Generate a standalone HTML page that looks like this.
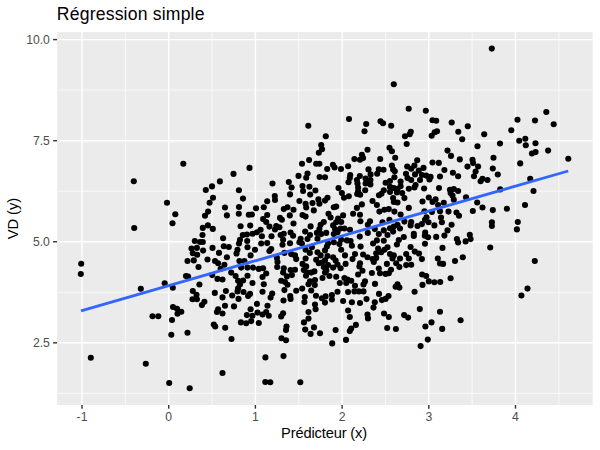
<!DOCTYPE html><html><head><meta charset="utf-8"><title>Régression simple</title>
<style>html,body{margin:0;padding:0;background:#fff}svg{display:block}text{font-family:"Liberation Sans",Arial,sans-serif}</style></head><body>
<svg width="600" height="450" viewBox="0 0 600 450">
<rect width="600" height="450" fill="#fff"/>
<rect x="57.1" y="32.1" width="535.60" height="372.90" fill="#EBEBEB"/>
<g stroke="#fff" stroke-width="0.71" opacity="1">
<line x1="125.35" x2="125.35" y1="32.1" y2="405.0"/>
<line x1="212.05" x2="212.05" y1="32.1" y2="405.0"/>
<line x1="298.75" x2="298.75" y1="32.1" y2="405.0"/>
<line x1="385.45" x2="385.45" y1="32.1" y2="405.0"/>
<line x1="472.15" x2="472.15" y1="32.1" y2="405.0"/>
<line x1="558.85" x2="558.85" y1="32.1" y2="405.0"/>
<line y1="393.36" y2="393.36" x1="57.1" x2="592.7"/>
<line y1="292.29" y2="292.29" x1="57.1" x2="592.7"/>
<line y1="191.21" y2="191.21" x1="57.1" x2="592.7"/>
<line y1="90.14" y2="90.14" x1="57.1" x2="592.7"/>
</g>
<g stroke="#fff" stroke-width="1.42">
<line x1="82.00" x2="82.00" y1="32.1" y2="405.0"/>
<line x1="168.70" x2="168.70" y1="32.1" y2="405.0"/>
<line x1="255.40" x2="255.40" y1="32.1" y2="405.0"/>
<line x1="342.10" x2="342.10" y1="32.1" y2="405.0"/>
<line x1="428.80" x2="428.80" y1="32.1" y2="405.0"/>
<line x1="515.50" x2="515.50" y1="32.1" y2="405.0"/>
<line y1="342.83" y2="342.83" x1="57.1" x2="592.7"/>
<line y1="241.75" y2="241.75" x1="57.1" x2="592.7"/>
<line y1="140.68" y2="140.68" x1="57.1" x2="592.7"/>
<line y1="39.60" y2="39.60" x1="57.1" x2="592.7"/>
</g>
<g fill="#000">
<circle cx="491.8" cy="48.6" r="3.05"/>
<circle cx="393.8" cy="84.2" r="3.05"/>
<circle cx="183.3" cy="163.7" r="3.05"/>
<circle cx="308.3" cy="125.7" r="3.05"/>
<circle cx="325.8" cy="136.3" r="3.05"/>
<circle cx="349.0" cy="119.0" r="3.05"/>
<circle cx="321.2" cy="145.0" r="3.05"/>
<circle cx="322.0" cy="149.3" r="3.05"/>
<circle cx="408.7" cy="108.7" r="3.05"/>
<circle cx="425.8" cy="110.7" r="3.05"/>
<circle cx="366.2" cy="124.0" r="3.05"/>
<circle cx="380.5" cy="121.3" r="3.05"/>
<circle cx="383.0" cy="123.3" r="3.05"/>
<circle cx="391.2" cy="125.8" r="3.05"/>
<circle cx="364.5" cy="131.3" r="3.05"/>
<circle cx="432.5" cy="120.3" r="3.05"/>
<circle cx="436.2" cy="120.7" r="3.05"/>
<circle cx="410.8" cy="131.7" r="3.05"/>
<circle cx="409.7" cy="134.2" r="3.05"/>
<circle cx="405.0" cy="136.3" r="3.05"/>
<circle cx="437.0" cy="131.2" r="3.05"/>
<circle cx="434.7" cy="132.2" r="3.05"/>
<circle cx="431.7" cy="135.8" r="3.05"/>
<circle cx="406.7" cy="144.0" r="3.05"/>
<circle cx="389.5" cy="147.8" r="3.05"/>
<circle cx="367.5" cy="149.7" r="3.05"/>
<circle cx="546.3" cy="112.0" r="3.05"/>
<circle cx="517.5" cy="119.7" r="3.05"/>
<circle cx="535.0" cy="120.5" r="3.05"/>
<circle cx="451.7" cy="122.5" r="3.05"/>
<circle cx="467.8" cy="126.2" r="3.05"/>
<circle cx="458.3" cy="131.7" r="3.05"/>
<circle cx="511.3" cy="130.2" r="3.05"/>
<circle cx="484.2" cy="134.2" r="3.05"/>
<circle cx="462.2" cy="139.2" r="3.05"/>
<circle cx="525.3" cy="138.8" r="3.05"/>
<circle cx="519.2" cy="140.8" r="3.05"/>
<circle cx="535.5" cy="143.3" r="3.05"/>
<circle cx="525.8" cy="145.3" r="3.05"/>
<circle cx="500.0" cy="143.5" r="3.05"/>
<circle cx="477.5" cy="146.3" r="3.05"/>
<circle cx="553.7" cy="124.2" r="3.05"/>
<circle cx="568.3" cy="158.7" r="3.05"/>
<circle cx="133.8" cy="181.3" r="3.05"/>
<circle cx="167.0" cy="202.8" r="3.05"/>
<circle cx="175.3" cy="214.3" r="3.05"/>
<circle cx="172.5" cy="223.3" r="3.05"/>
<circle cx="134.2" cy="228.0" r="3.05"/>
<circle cx="81.2" cy="263.7" r="3.05"/>
<circle cx="80.8" cy="274.0" r="3.05"/>
<circle cx="140.8" cy="288.7" r="3.05"/>
<circle cx="152.5" cy="316.2" r="3.05"/>
<circle cx="158.3" cy="316.2" r="3.05"/>
<circle cx="90.8" cy="357.7" r="3.05"/>
<circle cx="145.8" cy="363.8" r="3.05"/>
<circle cx="164.7" cy="283.3" r="3.05"/>
<circle cx="172.8" cy="287.7" r="3.05"/>
<circle cx="249.5" cy="167.9" r="3.05"/>
<circle cx="233.5" cy="173.9" r="3.05"/>
<circle cx="219.9" cy="181.4" r="3.05"/>
<circle cx="212.0" cy="186.4" r="3.05"/>
<circle cx="205.8" cy="190.0" r="3.05"/>
<circle cx="238.9" cy="190.2" r="3.05"/>
<circle cx="213.0" cy="197.8" r="3.05"/>
<circle cx="243.0" cy="198.6" r="3.05"/>
<circle cx="209.6" cy="202.8" r="3.05"/>
<circle cx="318.8" cy="152.8" r="3.05"/>
<circle cx="309.1" cy="160.1" r="3.05"/>
<circle cx="302.0" cy="163.8" r="3.05"/>
<circle cx="316.2" cy="163.8" r="3.05"/>
<circle cx="319.4" cy="163.8" r="3.05"/>
<circle cx="332.9" cy="164.8" r="3.05"/>
<circle cx="334.6" cy="167.5" r="3.05"/>
<circle cx="327.2" cy="169.0" r="3.05"/>
<circle cx="307.5" cy="173.5" r="3.05"/>
<circle cx="306.2" cy="177.8" r="3.05"/>
<circle cx="298.5" cy="175.9" r="3.05"/>
<circle cx="319.6" cy="177.0" r="3.05"/>
<circle cx="325.0" cy="177.2" r="3.05"/>
<circle cx="272.5" cy="183.5" r="3.05"/>
<circle cx="288.8" cy="182.1" r="3.05"/>
<circle cx="291.6" cy="187.5" r="3.05"/>
<circle cx="302.5" cy="186.0" r="3.05"/>
<circle cx="309.4" cy="186.8" r="3.05"/>
<circle cx="303.1" cy="191.0" r="3.05"/>
<circle cx="315.4" cy="190.5" r="3.05"/>
<circle cx="310.2" cy="194.6" r="3.05"/>
<circle cx="290.0" cy="194.4" r="3.05"/>
<circle cx="274.8" cy="196.0" r="3.05"/>
<circle cx="275.0" cy="200.0" r="3.05"/>
<circle cx="267.2" cy="201.2" r="3.05"/>
<circle cx="299.4" cy="201.0" r="3.05"/>
<circle cx="318.4" cy="199.4" r="3.05"/>
<circle cx="327.5" cy="197.8" r="3.05"/>
<circle cx="325.0" cy="200.6" r="3.05"/>
<circle cx="305.6" cy="203.8" r="3.05"/>
<circle cx="312.5" cy="203.1" r="3.05"/>
<circle cx="319.4" cy="203.8" r="3.05"/>
<circle cx="361.9" cy="154.8" r="3.05"/>
<circle cx="363.1" cy="158.1" r="3.05"/>
<circle cx="360.0" cy="159.8" r="3.05"/>
<circle cx="354.4" cy="159.1" r="3.05"/>
<circle cx="380.2" cy="159.0" r="3.05"/>
<circle cx="391.9" cy="151.2" r="3.05"/>
<circle cx="395.2" cy="157.8" r="3.05"/>
<circle cx="341.0" cy="169.0" r="3.05"/>
<circle cx="348.1" cy="166.2" r="3.05"/>
<circle cx="368.5" cy="169.4" r="3.05"/>
<circle cx="378.8" cy="169.4" r="3.05"/>
<circle cx="383.5" cy="169.8" r="3.05"/>
<circle cx="391.9" cy="165.6" r="3.05"/>
<circle cx="393.1" cy="169.4" r="3.05"/>
<circle cx="394.8" cy="171.2" r="3.05"/>
<circle cx="407.2" cy="166.5" r="3.05"/>
<circle cx="377.2" cy="173.8" r="3.05"/>
<circle cx="370.6" cy="174.4" r="3.05"/>
<circle cx="350.2" cy="175.0" r="3.05"/>
<circle cx="349.8" cy="178.1" r="3.05"/>
<circle cx="348.5" cy="182.2" r="3.05"/>
<circle cx="359.8" cy="176.0" r="3.05"/>
<circle cx="356.9" cy="180.0" r="3.05"/>
<circle cx="365.6" cy="178.5" r="3.05"/>
<circle cx="370.4" cy="180.0" r="3.05"/>
<circle cx="357.5" cy="183.5" r="3.05"/>
<circle cx="365.6" cy="183.5" r="3.05"/>
<circle cx="370.4" cy="184.4" r="3.05"/>
<circle cx="358.1" cy="187.5" r="3.05"/>
<circle cx="365.2" cy="190.2" r="3.05"/>
<circle cx="358.1" cy="191.2" r="3.05"/>
<circle cx="357.2" cy="194.0" r="3.05"/>
<circle cx="360.2" cy="194.8" r="3.05"/>
<circle cx="394.4" cy="177.2" r="3.05"/>
<circle cx="406.0" cy="173.8" r="3.05"/>
<circle cx="407.5" cy="178.1" r="3.05"/>
<circle cx="400.6" cy="181.5" r="3.05"/>
<circle cx="390.0" cy="181.0" r="3.05"/>
<circle cx="385.6" cy="182.8" r="3.05"/>
<circle cx="390.0" cy="186.9" r="3.05"/>
<circle cx="393.8" cy="188.1" r="3.05"/>
<circle cx="397.5" cy="188.8" r="3.05"/>
<circle cx="400.6" cy="186.2" r="3.05"/>
<circle cx="390.0" cy="191.9" r="3.05"/>
<circle cx="396.9" cy="192.5" r="3.05"/>
<circle cx="402.2" cy="193.1" r="3.05"/>
<circle cx="408.8" cy="188.8" r="3.05"/>
<circle cx="383.8" cy="190.2" r="3.05"/>
<circle cx="381.5" cy="193.8" r="3.05"/>
<circle cx="379.0" cy="195.2" r="3.05"/>
<circle cx="338.5" cy="188.1" r="3.05"/>
<circle cx="341.9" cy="193.1" r="3.05"/>
<circle cx="344.0" cy="197.8" r="3.05"/>
<circle cx="348.8" cy="196.2" r="3.05"/>
<circle cx="372.5" cy="201.0" r="3.05"/>
<circle cx="361.9" cy="204.4" r="3.05"/>
<circle cx="393.1" cy="198.1" r="3.05"/>
<circle cx="404.4" cy="198.1" r="3.05"/>
<circle cx="397.5" cy="202.5" r="3.05"/>
<circle cx="376.9" cy="205.0" r="3.05"/>
<circle cx="393.8" cy="201.9" r="3.05"/>
<circle cx="447.5" cy="150.6" r="3.05"/>
<circle cx="451.0" cy="155.9" r="3.05"/>
<circle cx="459.8" cy="159.4" r="3.05"/>
<circle cx="417.2" cy="160.2" r="3.05"/>
<circle cx="432.5" cy="162.5" r="3.05"/>
<circle cx="438.8" cy="162.9" r="3.05"/>
<circle cx="472.5" cy="159.8" r="3.05"/>
<circle cx="473.1" cy="163.1" r="3.05"/>
<circle cx="478.1" cy="166.5" r="3.05"/>
<circle cx="467.5" cy="166.6" r="3.05"/>
<circle cx="414.4" cy="165.6" r="3.05"/>
<circle cx="423.5" cy="167.9" r="3.05"/>
<circle cx="411.2" cy="168.8" r="3.05"/>
<circle cx="444.4" cy="170.0" r="3.05"/>
<circle cx="475.6" cy="171.5" r="3.05"/>
<circle cx="452.9" cy="172.8" r="3.05"/>
<circle cx="418.8" cy="170.6" r="3.05"/>
<circle cx="415.0" cy="174.4" r="3.05"/>
<circle cx="421.9" cy="175.0" r="3.05"/>
<circle cx="426.2" cy="175.6" r="3.05"/>
<circle cx="430.6" cy="176.9" r="3.05"/>
<circle cx="429.4" cy="179.4" r="3.05"/>
<circle cx="440.0" cy="176.5" r="3.05"/>
<circle cx="458.1" cy="176.2" r="3.05"/>
<circle cx="474.0" cy="176.2" r="3.05"/>
<circle cx="482.5" cy="178.8" r="3.05"/>
<circle cx="480.6" cy="181.2" r="3.05"/>
<circle cx="411.2" cy="180.0" r="3.05"/>
<circle cx="420.0" cy="180.0" r="3.05"/>
<circle cx="415.6" cy="185.0" r="3.05"/>
<circle cx="414.4" cy="187.5" r="3.05"/>
<circle cx="424.1" cy="188.5" r="3.05"/>
<circle cx="439.0" cy="188.1" r="3.05"/>
<circle cx="450.0" cy="189.8" r="3.05"/>
<circle cx="453.8" cy="189.0" r="3.05"/>
<circle cx="458.1" cy="191.0" r="3.05"/>
<circle cx="450.6" cy="193.1" r="3.05"/>
<circle cx="452.5" cy="195.6" r="3.05"/>
<circle cx="466.0" cy="197.2" r="3.05"/>
<circle cx="428.8" cy="197.5" r="3.05"/>
<circle cx="435.6" cy="199.4" r="3.05"/>
<circle cx="432.5" cy="201.9" r="3.05"/>
<circle cx="422.5" cy="201.5" r="3.05"/>
<circle cx="443.8" cy="202.8" r="3.05"/>
<circle cx="453.8" cy="199.8" r="3.05"/>
<circle cx="477.2" cy="202.5" r="3.05"/>
<circle cx="438.1" cy="205.0" r="3.05"/>
<circle cx="493.5" cy="157.8" r="3.05"/>
<circle cx="492.8" cy="168.5" r="3.05"/>
<circle cx="497.8" cy="174.5" r="3.05"/>
<circle cx="487.5" cy="180.0" r="3.05"/>
<circle cx="500.2" cy="189.4" r="3.05"/>
<circle cx="520.2" cy="163.4" r="3.05"/>
<circle cx="531.9" cy="153.5" r="3.05"/>
<circle cx="535.6" cy="152.1" r="3.05"/>
<circle cx="548.1" cy="150.6" r="3.05"/>
<circle cx="530.2" cy="178.8" r="3.05"/>
<circle cx="533.5" cy="191.0" r="3.05"/>
<circle cx="525.0" cy="205.0" r="3.05"/>
<circle cx="225.0" cy="207.5" r="3.05"/>
<circle cx="239.0" cy="207.0" r="3.05"/>
<circle cx="256.0" cy="208.2" r="3.05"/>
<circle cx="208.1" cy="211.6" r="3.05"/>
<circle cx="205.0" cy="215.8" r="3.05"/>
<circle cx="226.9" cy="215.4" r="3.05"/>
<circle cx="238.8" cy="213.8" r="3.05"/>
<circle cx="248.8" cy="214.8" r="3.05"/>
<circle cx="251.9" cy="214.5" r="3.05"/>
<circle cx="207.9" cy="225.4" r="3.05"/>
<circle cx="202.8" cy="227.9" r="3.05"/>
<circle cx="212.8" cy="228.9" r="3.05"/>
<circle cx="240.6" cy="226.2" r="3.05"/>
<circle cx="250.2" cy="225.6" r="3.05"/>
<circle cx="202.5" cy="235.0" r="3.05"/>
<circle cx="223.1" cy="238.2" r="3.05"/>
<circle cx="242.8" cy="235.0" r="3.05"/>
<circle cx="246.9" cy="234.5" r="3.05"/>
<circle cx="252.5" cy="233.8" r="3.05"/>
<circle cx="256.9" cy="232.2" r="3.05"/>
<circle cx="240.0" cy="239.8" r="3.05"/>
<circle cx="239.0" cy="243.5" r="3.05"/>
<circle cx="247.2" cy="241.0" r="3.05"/>
<circle cx="194.8" cy="241.0" r="3.05"/>
<circle cx="200.0" cy="242.0" r="3.05"/>
<circle cx="202.8" cy="242.0" r="3.05"/>
<circle cx="191.5" cy="248.5" r="3.05"/>
<circle cx="196.9" cy="247.9" r="3.05"/>
<circle cx="203.1" cy="250.6" r="3.05"/>
<circle cx="192.8" cy="253.2" r="3.05"/>
<circle cx="197.2" cy="254.8" r="3.05"/>
<circle cx="212.5" cy="247.9" r="3.05"/>
<circle cx="223.8" cy="246.2" r="3.05"/>
<circle cx="228.8" cy="247.0" r="3.05"/>
<circle cx="219.0" cy="252.9" r="3.05"/>
<circle cx="226.9" cy="257.2" r="3.05"/>
<circle cx="237.5" cy="249.8" r="3.05"/>
<circle cx="236.5" cy="253.5" r="3.05"/>
<circle cx="247.5" cy="247.2" r="3.05"/>
<circle cx="255.0" cy="249.8" r="3.05"/>
<circle cx="250.6" cy="255.4" r="3.05"/>
<circle cx="207.5" cy="259.5" r="3.05"/>
<circle cx="193.8" cy="260.4" r="3.05"/>
<circle cx="187.5" cy="261.0" r="3.05"/>
<circle cx="215.0" cy="261.0" r="3.05"/>
<circle cx="239.4" cy="261.0" r="3.05"/>
<circle cx="244.4" cy="261.0" r="3.05"/>
<circle cx="263.8" cy="207.2" r="3.05"/>
<circle cx="283.8" cy="209.1" r="3.05"/>
<circle cx="287.5" cy="207.2" r="3.05"/>
<circle cx="293.5" cy="209.8" r="3.05"/>
<circle cx="306.2" cy="207.5" r="3.05"/>
<circle cx="313.8" cy="210.4" r="3.05"/>
<circle cx="333.8" cy="207.2" r="3.05"/>
<circle cx="267.2" cy="215.0" r="3.05"/>
<circle cx="263.1" cy="219.1" r="3.05"/>
<circle cx="266.2" cy="222.0" r="3.05"/>
<circle cx="280.0" cy="217.9" r="3.05"/>
<circle cx="281.9" cy="219.8" r="3.05"/>
<circle cx="289.8" cy="215.4" r="3.05"/>
<circle cx="302.5" cy="215.0" r="3.05"/>
<circle cx="305.6" cy="216.6" r="3.05"/>
<circle cx="328.5" cy="213.8" r="3.05"/>
<circle cx="330.6" cy="217.5" r="3.05"/>
<circle cx="323.8" cy="222.0" r="3.05"/>
<circle cx="269.4" cy="226.6" r="3.05"/>
<circle cx="276.2" cy="226.0" r="3.05"/>
<circle cx="279.4" cy="227.2" r="3.05"/>
<circle cx="275.0" cy="229.5" r="3.05"/>
<circle cx="293.5" cy="223.5" r="3.05"/>
<circle cx="310.6" cy="226.4" r="3.05"/>
<circle cx="320.6" cy="224.8" r="3.05"/>
<circle cx="319.4" cy="229.1" r="3.05"/>
<circle cx="333.1" cy="225.4" r="3.05"/>
<circle cx="335.0" cy="229.1" r="3.05"/>
<circle cx="260.6" cy="229.8" r="3.05"/>
<circle cx="261.9" cy="236.2" r="3.05"/>
<circle cx="271.5" cy="236.2" r="3.05"/>
<circle cx="280.6" cy="235.0" r="3.05"/>
<circle cx="283.8" cy="233.8" r="3.05"/>
<circle cx="290.6" cy="232.5" r="3.05"/>
<circle cx="293.1" cy="235.8" r="3.05"/>
<circle cx="305.2" cy="231.6" r="3.05"/>
<circle cx="310.0" cy="235.0" r="3.05"/>
<circle cx="316.9" cy="232.9" r="3.05"/>
<circle cx="321.2" cy="234.1" r="3.05"/>
<circle cx="326.2" cy="232.9" r="3.05"/>
<circle cx="333.8" cy="234.1" r="3.05"/>
<circle cx="300.6" cy="238.8" r="3.05"/>
<circle cx="307.5" cy="239.1" r="3.05"/>
<circle cx="317.5" cy="238.8" r="3.05"/>
<circle cx="261.2" cy="243.5" r="3.05"/>
<circle cx="267.2" cy="243.1" r="3.05"/>
<circle cx="283.1" cy="239.8" r="3.05"/>
<circle cx="282.5" cy="244.8" r="3.05"/>
<circle cx="290.0" cy="243.2" r="3.05"/>
<circle cx="299.4" cy="242.2" r="3.05"/>
<circle cx="301.9" cy="243.5" r="3.05"/>
<circle cx="328.1" cy="243.5" r="3.05"/>
<circle cx="333.8" cy="242.2" r="3.05"/>
<circle cx="326.9" cy="246.6" r="3.05"/>
<circle cx="271.2" cy="249.1" r="3.05"/>
<circle cx="269.4" cy="251.0" r="3.05"/>
<circle cx="311.9" cy="247.2" r="3.05"/>
<circle cx="305.6" cy="249.8" r="3.05"/>
<circle cx="325.0" cy="250.4" r="3.05"/>
<circle cx="309.8" cy="252.9" r="3.05"/>
<circle cx="317.5" cy="252.2" r="3.05"/>
<circle cx="284.4" cy="252.9" r="3.05"/>
<circle cx="291.2" cy="254.1" r="3.05"/>
<circle cx="295.0" cy="255.4" r="3.05"/>
<circle cx="296.2" cy="259.1" r="3.05"/>
<circle cx="305.6" cy="258.5" r="3.05"/>
<circle cx="276.9" cy="257.9" r="3.05"/>
<circle cx="320.6" cy="255.4" r="3.05"/>
<circle cx="327.5" cy="256.0" r="3.05"/>
<circle cx="333.1" cy="257.2" r="3.05"/>
<circle cx="325.0" cy="260.4" r="3.05"/>
<circle cx="316.2" cy="259.8" r="3.05"/>
<circle cx="336.2" cy="206.6" r="3.05"/>
<circle cx="356.9" cy="207.9" r="3.05"/>
<circle cx="379.4" cy="211.6" r="3.05"/>
<circle cx="384.4" cy="209.8" r="3.05"/>
<circle cx="388.8" cy="209.1" r="3.05"/>
<circle cx="394.4" cy="211.6" r="3.05"/>
<circle cx="408.8" cy="207.9" r="3.05"/>
<circle cx="353.1" cy="213.8" r="3.05"/>
<circle cx="360.0" cy="214.8" r="3.05"/>
<circle cx="343.1" cy="215.4" r="3.05"/>
<circle cx="400.6" cy="214.5" r="3.05"/>
<circle cx="338.1" cy="218.5" r="3.05"/>
<circle cx="341.2" cy="222.0" r="3.05"/>
<circle cx="336.2" cy="222.2" r="3.05"/>
<circle cx="360.4" cy="221.2" r="3.05"/>
<circle cx="370.0" cy="221.2" r="3.05"/>
<circle cx="367.8" cy="224.8" r="3.05"/>
<circle cx="382.5" cy="222.2" r="3.05"/>
<circle cx="389.4" cy="219.8" r="3.05"/>
<circle cx="404.4" cy="221.6" r="3.05"/>
<circle cx="397.5" cy="224.8" r="3.05"/>
<circle cx="393.8" cy="226.6" r="3.05"/>
<circle cx="400.0" cy="228.5" r="3.05"/>
<circle cx="390.0" cy="228.2" r="3.05"/>
<circle cx="340.6" cy="228.5" r="3.05"/>
<circle cx="344.4" cy="228.5" r="3.05"/>
<circle cx="350.0" cy="229.8" r="3.05"/>
<circle cx="337.5" cy="232.2" r="3.05"/>
<circle cx="374.8" cy="229.1" r="3.05"/>
<circle cx="383.8" cy="230.4" r="3.05"/>
<circle cx="367.8" cy="232.9" r="3.05"/>
<circle cx="378.8" cy="234.1" r="3.05"/>
<circle cx="387.5" cy="235.0" r="3.05"/>
<circle cx="393.1" cy="231.6" r="3.05"/>
<circle cx="359.8" cy="236.6" r="3.05"/>
<circle cx="403.8" cy="237.0" r="3.05"/>
<circle cx="341.2" cy="239.8" r="3.05"/>
<circle cx="346.9" cy="240.4" r="3.05"/>
<circle cx="350.6" cy="241.0" r="3.05"/>
<circle cx="339.4" cy="244.1" r="3.05"/>
<circle cx="351.9" cy="245.8" r="3.05"/>
<circle cx="376.9" cy="240.4" r="3.05"/>
<circle cx="373.1" cy="243.5" r="3.05"/>
<circle cx="383.8" cy="240.8" r="3.05"/>
<circle cx="398.8" cy="240.0" r="3.05"/>
<circle cx="396.9" cy="244.5" r="3.05"/>
<circle cx="360.6" cy="246.6" r="3.05"/>
<circle cx="341.2" cy="249.8" r="3.05"/>
<circle cx="378.1" cy="248.5" r="3.05"/>
<circle cx="387.5" cy="247.2" r="3.05"/>
<circle cx="384.4" cy="249.8" r="3.05"/>
<circle cx="381.2" cy="252.2" r="3.05"/>
<circle cx="376.2" cy="253.2" r="3.05"/>
<circle cx="345.0" cy="255.4" r="3.05"/>
<circle cx="355.0" cy="254.1" r="3.05"/>
<circle cx="352.5" cy="259.1" r="3.05"/>
<circle cx="363.1" cy="254.5" r="3.05"/>
<circle cx="367.5" cy="257.2" r="3.05"/>
<circle cx="372.5" cy="259.1" r="3.05"/>
<circle cx="376.2" cy="257.9" r="3.05"/>
<circle cx="390.0" cy="254.1" r="3.05"/>
<circle cx="393.8" cy="255.4" r="3.05"/>
<circle cx="392.5" cy="258.5" r="3.05"/>
<circle cx="400.0" cy="258.5" r="3.05"/>
<circle cx="406.2" cy="254.1" r="3.05"/>
<circle cx="408.8" cy="258.5" r="3.05"/>
<circle cx="424.4" cy="211.2" r="3.05"/>
<circle cx="431.9" cy="212.0" r="3.05"/>
<circle cx="440.0" cy="211.2" r="3.05"/>
<circle cx="448.5" cy="211.6" r="3.05"/>
<circle cx="456.5" cy="212.5" r="3.05"/>
<circle cx="459.0" cy="215.8" r="3.05"/>
<circle cx="472.8" cy="211.0" r="3.05"/>
<circle cx="482.5" cy="207.5" r="3.05"/>
<circle cx="426.5" cy="217.2" r="3.05"/>
<circle cx="425.0" cy="219.8" r="3.05"/>
<circle cx="428.5" cy="222.2" r="3.05"/>
<circle cx="441.0" cy="217.5" r="3.05"/>
<circle cx="441.9" cy="222.2" r="3.05"/>
<circle cx="411.2" cy="222.0" r="3.05"/>
<circle cx="410.6" cy="225.4" r="3.05"/>
<circle cx="417.5" cy="226.0" r="3.05"/>
<circle cx="421.9" cy="224.1" r="3.05"/>
<circle cx="434.4" cy="225.4" r="3.05"/>
<circle cx="451.6" cy="224.8" r="3.05"/>
<circle cx="447.5" cy="230.4" r="3.05"/>
<circle cx="444.4" cy="235.6" r="3.05"/>
<circle cx="436.2" cy="236.9" r="3.05"/>
<circle cx="425.2" cy="232.5" r="3.05"/>
<circle cx="424.8" cy="235.8" r="3.05"/>
<circle cx="428.1" cy="237.2" r="3.05"/>
<circle cx="413.8" cy="233.8" r="3.05"/>
<circle cx="413.8" cy="236.0" r="3.05"/>
<circle cx="469.8" cy="234.8" r="3.05"/>
<circle cx="470.6" cy="239.1" r="3.05"/>
<circle cx="465.6" cy="241.4" r="3.05"/>
<circle cx="456.9" cy="239.1" r="3.05"/>
<circle cx="458.1" cy="242.5" r="3.05"/>
<circle cx="425.0" cy="243.8" r="3.05"/>
<circle cx="410.6" cy="247.0" r="3.05"/>
<circle cx="442.5" cy="247.9" r="3.05"/>
<circle cx="414.8" cy="251.6" r="3.05"/>
<circle cx="419.0" cy="253.5" r="3.05"/>
<circle cx="421.9" cy="259.1" r="3.05"/>
<circle cx="437.8" cy="258.5" r="3.05"/>
<circle cx="455.0" cy="261.0" r="3.05"/>
<circle cx="462.8" cy="257.2" r="3.05"/>
<circle cx="492.8" cy="210.1" r="3.05"/>
<circle cx="506.9" cy="208.8" r="3.05"/>
<circle cx="491.9" cy="222.2" r="3.05"/>
<circle cx="491.9" cy="226.0" r="3.05"/>
<circle cx="517.8" cy="222.0" r="3.05"/>
<circle cx="516.9" cy="229.4" r="3.05"/>
<circle cx="490.2" cy="247.5" r="3.05"/>
<circle cx="534.8" cy="261.0" r="3.05"/>
<circle cx="198.5" cy="267.0" r="3.05"/>
<circle cx="218.1" cy="263.2" r="3.05"/>
<circle cx="224.4" cy="264.8" r="3.05"/>
<circle cx="220.6" cy="268.9" r="3.05"/>
<circle cx="241.2" cy="267.6" r="3.05"/>
<circle cx="247.5" cy="267.6" r="3.05"/>
<circle cx="253.1" cy="267.6" r="3.05"/>
<circle cx="258.8" cy="268.9" r="3.05"/>
<circle cx="186.0" cy="276.1" r="3.05"/>
<circle cx="188.1" cy="276.6" r="3.05"/>
<circle cx="212.2" cy="275.1" r="3.05"/>
<circle cx="217.5" cy="278.9" r="3.05"/>
<circle cx="222.5" cy="279.5" r="3.05"/>
<circle cx="231.2" cy="272.6" r="3.05"/>
<circle cx="235.6" cy="276.0" r="3.05"/>
<circle cx="247.5" cy="275.8" r="3.05"/>
<circle cx="238.1" cy="280.8" r="3.05"/>
<circle cx="243.1" cy="280.5" r="3.05"/>
<circle cx="252.5" cy="283.0" r="3.05"/>
<circle cx="240.0" cy="284.5" r="3.05"/>
<circle cx="199.4" cy="284.5" r="3.05"/>
<circle cx="192.8" cy="291.0" r="3.05"/>
<circle cx="196.5" cy="294.8" r="3.05"/>
<circle cx="192.5" cy="299.2" r="3.05"/>
<circle cx="196.9" cy="299.2" r="3.05"/>
<circle cx="204.4" cy="301.8" r="3.05"/>
<circle cx="201.9" cy="305.1" r="3.05"/>
<circle cx="214.8" cy="292.9" r="3.05"/>
<circle cx="225.9" cy="291.0" r="3.05"/>
<circle cx="222.5" cy="297.4" r="3.05"/>
<circle cx="232.2" cy="295.5" r="3.05"/>
<circle cx="238.1" cy="288.2" r="3.05"/>
<circle cx="237.5" cy="291.4" r="3.05"/>
<circle cx="243.5" cy="292.0" r="3.05"/>
<circle cx="250.0" cy="293.9" r="3.05"/>
<circle cx="248.1" cy="296.0" r="3.05"/>
<circle cx="238.5" cy="298.9" r="3.05"/>
<circle cx="225.0" cy="305.8" r="3.05"/>
<circle cx="234.0" cy="306.4" r="3.05"/>
<circle cx="256.9" cy="303.9" r="3.05"/>
<circle cx="218.1" cy="309.2" r="3.05"/>
<circle cx="216.9" cy="312.0" r="3.05"/>
<circle cx="222.5" cy="313.5" r="3.05"/>
<circle cx="250.6" cy="309.2" r="3.05"/>
<circle cx="257.5" cy="312.6" r="3.05"/>
<circle cx="246.9" cy="315.1" r="3.05"/>
<circle cx="252.5" cy="315.8" r="3.05"/>
<circle cx="263.1" cy="268.2" r="3.05"/>
<circle cx="266.2" cy="273.5" r="3.05"/>
<circle cx="262.5" cy="277.0" r="3.05"/>
<circle cx="263.8" cy="284.2" r="3.05"/>
<circle cx="262.5" cy="291.8" r="3.05"/>
<circle cx="277.2" cy="267.0" r="3.05"/>
<circle cx="277.5" cy="262.0" r="3.05"/>
<circle cx="283.8" cy="268.2" r="3.05"/>
<circle cx="283.1" cy="272.6" r="3.05"/>
<circle cx="290.6" cy="270.1" r="3.05"/>
<circle cx="295.0" cy="269.8" r="3.05"/>
<circle cx="286.9" cy="276.4" r="3.05"/>
<circle cx="291.9" cy="275.1" r="3.05"/>
<circle cx="281.2" cy="280.8" r="3.05"/>
<circle cx="285.0" cy="282.0" r="3.05"/>
<circle cx="287.5" cy="284.8" r="3.05"/>
<circle cx="284.4" cy="290.1" r="3.05"/>
<circle cx="302.5" cy="263.9" r="3.05"/>
<circle cx="306.2" cy="266.4" r="3.05"/>
<circle cx="303.8" cy="270.1" r="3.05"/>
<circle cx="307.5" cy="272.6" r="3.05"/>
<circle cx="306.0" cy="275.8" r="3.05"/>
<circle cx="311.2" cy="272.6" r="3.05"/>
<circle cx="314.4" cy="271.4" r="3.05"/>
<circle cx="318.8" cy="263.2" r="3.05"/>
<circle cx="323.8" cy="267.0" r="3.05"/>
<circle cx="328.1" cy="265.1" r="3.05"/>
<circle cx="333.1" cy="267.6" r="3.05"/>
<circle cx="325.0" cy="272.6" r="3.05"/>
<circle cx="322.5" cy="278.0" r="3.05"/>
<circle cx="329.4" cy="276.0" r="3.05"/>
<circle cx="310.0" cy="281.4" r="3.05"/>
<circle cx="315.0" cy="280.1" r="3.05"/>
<circle cx="308.5" cy="284.2" r="3.05"/>
<circle cx="314.8" cy="285.1" r="3.05"/>
<circle cx="302.2" cy="288.6" r="3.05"/>
<circle cx="296.2" cy="290.8" r="3.05"/>
<circle cx="311.2" cy="290.5" r="3.05"/>
<circle cx="272.2" cy="293.5" r="3.05"/>
<circle cx="270.6" cy="297.6" r="3.05"/>
<circle cx="267.5" cy="305.8" r="3.05"/>
<circle cx="266.2" cy="312.0" r="3.05"/>
<circle cx="268.8" cy="315.8" r="3.05"/>
<circle cx="262.5" cy="314.5" r="3.05"/>
<circle cx="283.5" cy="300.5" r="3.05"/>
<circle cx="290.2" cy="296.0" r="3.05"/>
<circle cx="290.6" cy="298.9" r="3.05"/>
<circle cx="283.1" cy="313.2" r="3.05"/>
<circle cx="281.2" cy="316.4" r="3.05"/>
<circle cx="304.8" cy="297.0" r="3.05"/>
<circle cx="304.4" cy="302.0" r="3.05"/>
<circle cx="316.0" cy="295.8" r="3.05"/>
<circle cx="321.9" cy="298.2" r="3.05"/>
<circle cx="325.6" cy="296.4" r="3.05"/>
<circle cx="331.9" cy="295.1" r="3.05"/>
<circle cx="331.9" cy="299.5" r="3.05"/>
<circle cx="325.0" cy="302.6" r="3.05"/>
<circle cx="315.0" cy="304.5" r="3.05"/>
<circle cx="315.6" cy="309.2" r="3.05"/>
<circle cx="308.5" cy="312.0" r="3.05"/>
<circle cx="337.5" cy="264.5" r="3.05"/>
<circle cx="340.6" cy="268.2" r="3.05"/>
<circle cx="345.6" cy="263.9" r="3.05"/>
<circle cx="360.0" cy="263.2" r="3.05"/>
<circle cx="359.4" cy="266.4" r="3.05"/>
<circle cx="362.5" cy="270.8" r="3.05"/>
<circle cx="358.1" cy="274.5" r="3.05"/>
<circle cx="371.9" cy="273.0" r="3.05"/>
<circle cx="373.8" cy="262.0" r="3.05"/>
<circle cx="378.8" cy="268.5" r="3.05"/>
<circle cx="380.0" cy="273.2" r="3.05"/>
<circle cx="385.6" cy="273.9" r="3.05"/>
<circle cx="388.8" cy="273.2" r="3.05"/>
<circle cx="391.0" cy="269.8" r="3.05"/>
<circle cx="386.9" cy="263.9" r="3.05"/>
<circle cx="396.2" cy="263.2" r="3.05"/>
<circle cx="399.4" cy="267.0" r="3.05"/>
<circle cx="406.2" cy="265.1" r="3.05"/>
<circle cx="336.2" cy="276.8" r="3.05"/>
<circle cx="344.4" cy="278.0" r="3.05"/>
<circle cx="347.5" cy="279.5" r="3.05"/>
<circle cx="351.2" cy="280.8" r="3.05"/>
<circle cx="339.8" cy="283.0" r="3.05"/>
<circle cx="346.2" cy="283.0" r="3.05"/>
<circle cx="355.0" cy="285.8" r="3.05"/>
<circle cx="365.0" cy="281.4" r="3.05"/>
<circle cx="363.5" cy="284.5" r="3.05"/>
<circle cx="375.0" cy="283.9" r="3.05"/>
<circle cx="397.5" cy="284.2" r="3.05"/>
<circle cx="399.4" cy="287.6" r="3.05"/>
<circle cx="395.6" cy="286.8" r="3.05"/>
<circle cx="337.5" cy="291.8" r="3.05"/>
<circle cx="348.1" cy="292.0" r="3.05"/>
<circle cx="354.4" cy="291.4" r="3.05"/>
<circle cx="358.8" cy="291.4" r="3.05"/>
<circle cx="363.5" cy="291.4" r="3.05"/>
<circle cx="379.0" cy="293.9" r="3.05"/>
<circle cx="388.5" cy="296.0" r="3.05"/>
<circle cx="385.6" cy="298.9" r="3.05"/>
<circle cx="381.9" cy="300.1" r="3.05"/>
<circle cx="366.5" cy="299.1" r="3.05"/>
<circle cx="360.0" cy="303.0" r="3.05"/>
<circle cx="351.9" cy="302.2" r="3.05"/>
<circle cx="343.1" cy="301.0" r="3.05"/>
<circle cx="374.8" cy="302.2" r="3.05"/>
<circle cx="373.5" cy="307.6" r="3.05"/>
<circle cx="348.1" cy="310.5" r="3.05"/>
<circle cx="349.8" cy="317.0" r="3.05"/>
<circle cx="367.5" cy="314.5" r="3.05"/>
<circle cx="384.0" cy="313.5" r="3.05"/>
<circle cx="388.8" cy="317.0" r="3.05"/>
<circle cx="404.1" cy="315.1" r="3.05"/>
<circle cx="408.1" cy="317.6" r="3.05"/>
<circle cx="411.2" cy="264.8" r="3.05"/>
<circle cx="440.0" cy="263.5" r="3.05"/>
<circle cx="443.1" cy="263.9" r="3.05"/>
<circle cx="422.1" cy="274.5" r="3.05"/>
<circle cx="426.2" cy="276.0" r="3.05"/>
<circle cx="428.8" cy="281.4" r="3.05"/>
<circle cx="434.4" cy="282.2" r="3.05"/>
<circle cx="440.2" cy="282.0" r="3.05"/>
<circle cx="450.6" cy="278.2" r="3.05"/>
<circle cx="422.5" cy="284.9" r="3.05"/>
<circle cx="414.6" cy="291.8" r="3.05"/>
<circle cx="419.8" cy="309.1" r="3.05"/>
<circle cx="440.0" cy="311.8" r="3.05"/>
<circle cx="527.5" cy="288.6" r="3.05"/>
<circle cx="521.4" cy="295.5" r="3.05"/>
<circle cx="187.5" cy="332.8" r="3.05"/>
<circle cx="213.8" cy="324.5" r="3.05"/>
<circle cx="215.2" cy="326.5" r="3.05"/>
<circle cx="225.2" cy="327.8" r="3.05"/>
<circle cx="231.5" cy="339.0" r="3.05"/>
<circle cx="240.9" cy="322.4" r="3.05"/>
<circle cx="246.2" cy="323.2" r="3.05"/>
<circle cx="251.2" cy="321.1" r="3.05"/>
<circle cx="258.8" cy="323.0" r="3.05"/>
<circle cx="222.5" cy="373.0" r="3.05"/>
<circle cx="286.5" cy="326.5" r="3.05"/>
<circle cx="286.0" cy="330.1" r="3.05"/>
<circle cx="281.5" cy="338.2" r="3.05"/>
<circle cx="286.0" cy="340.2" r="3.05"/>
<circle cx="304.0" cy="322.4" r="3.05"/>
<circle cx="308.5" cy="318.6" r="3.05"/>
<circle cx="314.0" cy="327.4" r="3.05"/>
<circle cx="305.2" cy="329.6" r="3.05"/>
<circle cx="310.6" cy="333.9" r="3.05"/>
<circle cx="320.0" cy="333.2" r="3.05"/>
<circle cx="332.2" cy="343.4" r="3.05"/>
<circle cx="265.4" cy="357.4" r="3.05"/>
<circle cx="283.5" cy="356.1" r="3.05"/>
<circle cx="355.9" cy="324.9" r="3.05"/>
<circle cx="351.2" cy="328.6" r="3.05"/>
<circle cx="349.8" cy="331.1" r="3.05"/>
<circle cx="335.6" cy="330.1" r="3.05"/>
<circle cx="346.0" cy="339.9" r="3.05"/>
<circle cx="387.2" cy="328.0" r="3.05"/>
<circle cx="395.9" cy="329.0" r="3.05"/>
<circle cx="431.5" cy="322.4" r="3.05"/>
<circle cx="425.4" cy="326.5" r="3.05"/>
<circle cx="442.2" cy="328.9" r="3.05"/>
<circle cx="460.6" cy="320.2" r="3.05"/>
<circle cx="427.8" cy="339.6" r="3.05"/>
<circle cx="420.6" cy="346.1" r="3.05"/>
<circle cx="171.3" cy="334.7" r="3.05"/>
<circle cx="169.2" cy="383.0" r="3.05"/>
<circle cx="189.7" cy="388.3" r="3.05"/>
<circle cx="173.0" cy="307.0" r="3.05"/>
<circle cx="177.0" cy="308.7" r="3.05"/>
<circle cx="181.3" cy="311.7" r="3.05"/>
<circle cx="177.5" cy="313.7" r="3.05"/>
<circle cx="172.0" cy="320.0" r="3.05"/>
<circle cx="265.3" cy="382.0" r="3.05"/>
<circle cx="270.3" cy="382.2" r="3.05"/>
<circle cx="300.3" cy="382.2" r="3.05"/>
<circle cx="368.0" cy="318.4" r="3.05"/>
<circle cx="326.4" cy="270.4" r="3.05"/>
<circle cx="335.6" cy="260.5" r="3.05"/>
<circle cx="322.0" cy="262.5" r="3.05"/>
</g>
<line x1="81.0" y1="310.8" x2="568.2" y2="171.0" stroke="#3366FF" stroke-width="2.85"/>
<g stroke="#333" stroke-width="1.42">
<line x1="82.00" x2="82.00" y1="405.0" y2="408.67"/>
<line x1="168.70" x2="168.70" y1="405.0" y2="408.67"/>
<line x1="255.40" x2="255.40" y1="405.0" y2="408.67"/>
<line x1="342.10" x2="342.10" y1="405.0" y2="408.67"/>
<line x1="428.80" x2="428.80" y1="405.0" y2="408.67"/>
<line x1="515.50" x2="515.50" y1="405.0" y2="408.67"/>
<line y1="342.83" y2="342.83" x1="53.1" x2="57.1"/>
<line y1="241.75" y2="241.75" x1="53.1" x2="57.1"/>
<line y1="140.68" y2="140.68" x1="53.1" x2="57.1"/>
<line y1="39.60" y2="39.60" x1="53.1" x2="57.1"/>
</g>
<g fill="#4D4D4D" font-size="12.2">
<text x="82.00" y="421.10" text-anchor="middle">-1</text>
<text x="168.70" y="421.10" text-anchor="middle">0</text>
<text x="255.40" y="421.10" text-anchor="middle">1</text>
<text x="342.10" y="421.10" text-anchor="middle">2</text>
<text x="428.80" y="421.10" text-anchor="middle">3</text>
<text x="515.50" y="421.10" text-anchor="middle">4</text>
<text x="49.90" y="347.33" text-anchor="end">2.5</text>
<text x="49.90" y="246.25" text-anchor="end">5.0</text>
<text x="49.90" y="145.18" text-anchor="end">7.5</text>
<text x="49.90" y="44.10" text-anchor="end">10.0</text>
</g>
<text x="281.1" y="438.1" font-size="14.67" textLength="86.0" fill="#000">Prédicteur (x)</text>
<text transform="translate(18.1,218.55) rotate(-90)" font-size="14.67" text-anchor="middle" fill="#000">VD (y)</text>
<text x="56.8" y="19.85" font-size="17.6" textLength="147.7" fill="#000">Régression simple</text>
</svg></body></html>
